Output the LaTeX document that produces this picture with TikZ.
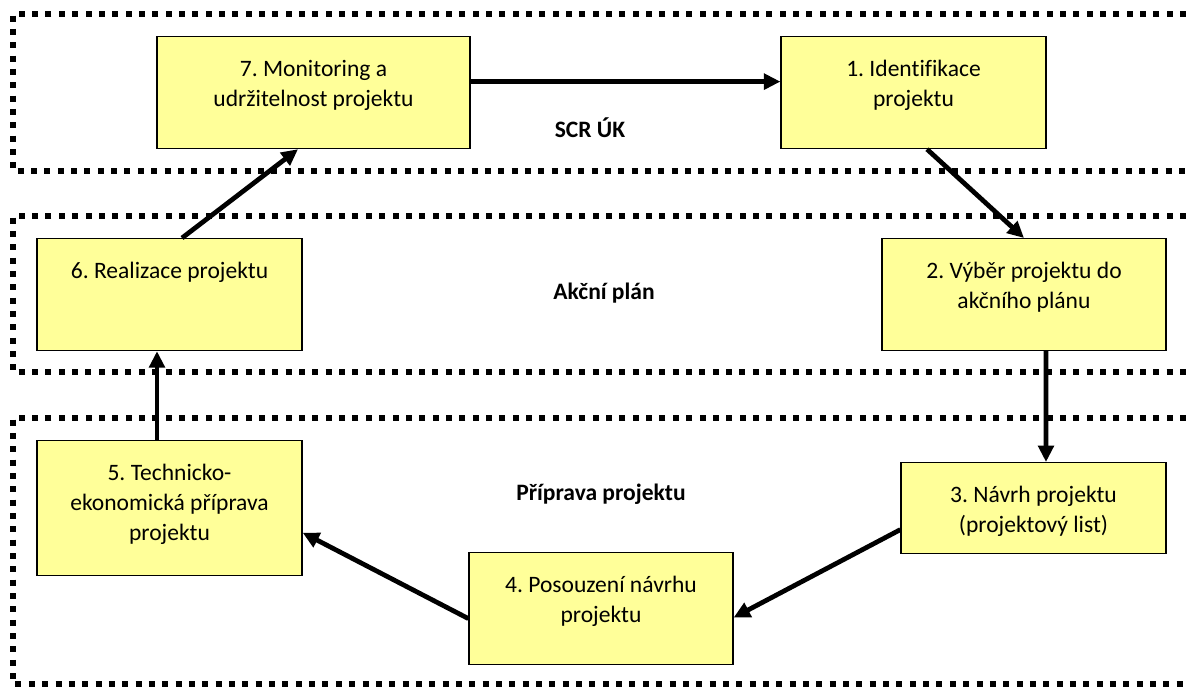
\documentclass[tikz,border=0pt]{standalone}
\usepackage{fontspec}
\setmainfont{Carlito}[Ligatures=NoCommon]
\usetikzlibrary{arrows.meta}
\definecolor{BoxYellow}{RGB}{255,255,153}
\frenchspacing

\tikzset{
  stage/.style={draw, fill=BoxYellow, line width=0.7pt, align=flush center, inner sep=0pt,
    text height=0.8cm, font=\fontsize{13.4}{17}\selectfont},
  band/.style={line width=0.12cm, dash pattern=on 0.12cm off 0.147cm},
  flow/.style={line width=0.095cm, -{Triangle[length=0.33cm,width=0.31cm]}},
  zone/.style={font=\fontsize{13.4}{17}\selectfont\bfseries}
}

\begin{document}
\begin{tikzpicture}[x=0.02cm, y=-0.02cm]
\useasboundingbox (0,0) rectangle (1186,687);
% dotted bands
\draw[band] (1186,14) -- (13,14) -- (13,171) -- (1186,171);
\draw[band] (1186,216) -- (13,216) -- (13,372) -- (1186,372);
\draw[band] (1186,418) -- (13,418) -- (13,684) -- (1186,684);
\node[zone] (scr) at (590,128) {SCR ÚK};
\node[zone] (akce) at (604,293) {Akční plán};
\node[zone] (priprava) at (601,494) {Příprava projektu};
% stages
\node[stage, anchor=north, text width=6.26cm, text depth=1.44cm] (s7) at (313.5,36) {7. Monitoring a\\udržitelnost projektu};
\node[stage, anchor=north, text width=5.3cm, text depth=1.44cm] (s1) at (913.5,36) {1. Identifikace\\projektu};
\node[stage, anchor=north, text width=5.3cm, text depth=1.44cm] (s6) at (169.5,238) {6. Realizace projektu};
\node[stage, anchor=north, text width=5.68cm, text depth=1.44cm] (s2) at (1024,238) {2. Výběr projektu do\\akčního plánu};
\node[stage, anchor=north, text width=5.3cm, text depth=1.9cm] (s5) at (169.5,440) {5. Technicko-\\ekonomická příprava\\projektu};
\node[stage, anchor=north, text width=5.3cm, text depth=1.02cm] (s3) at (1033.5,462) {3. Návrh projektu\\(projektový list)};
\node[stage, anchor=north, text width=5.28cm, text depth=1.44cm] (s4) at (601,552) {4. Posouzení návrhu\\projektu};
% cycle
\draw[flow] ([yshift=0.22cm]s7.east) -- ([yshift=0.22cm]s1.west);
\draw[flow] ([xshift=0.27cm]s1.south) -- (s2.north);
\draw[flow] ([xshift=0.44cm]s2.south) -- ([xshift=0.25cm]s3.north);
\draw[flow] ([yshift=-0.43cm]s3.west) -- ([yshift=-0.18cm]s4.east);
\draw[flow] ([yshift=-0.2cm]s4.west) -- ([yshift=-0.49cm]s5.east);
\draw[flow] ([xshift=-0.25cm]s5.north) -- ([xshift=-0.25cm]s6.south);
\draw[flow] ([xshift=0.25cm]s6.north) -- ([xshift=-0.31cm]s7.south);
\end{tikzpicture}
\end{document}
